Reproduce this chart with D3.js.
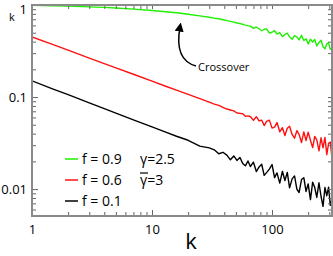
<!DOCTYPE html>
<html>
<head>
<meta charset="utf-8">
<script src="https://cdn.jsdelivr.net/npm/d3@7"></script>
<style>
  body { margin: 0; background: #fff; }
  svg { display: block; font-family: "Open Sans", "Noto Sans", sans-serif; }
</style>
</head>
<body>
<div id="chart"></div>
<script>
// degree values, shared by the three curves
var kValues = [1, 1.5, 2, 3, 4, 5, 7, 10, 13, 16, 20, 25, 30,
  33, 36, 39, 42, 45, 48, 51, 54, 57, 60, 63,
  66, 70, 74, 78, 82, 86, 90, 95, 100, 105, 110, 116, 122, 128, 134, 140,
  147, 154, 161, 168, 176, 184, 192, 200, 209, 218, 227, 236, 246, 256,
  266, 276, 286, 296, 306, 316];

// f = 0.9 (green)
var greenValues = [0.99, 0.98, 0.973, 0.955, 0.942, 0.929, 0.902, 0.871, 0.845, 0.824, 0.794, 0.762, 0.736,
  0.719, 0.708, 0.692, 0.676, 0.664, 0.652, 0.638, 0.627, 0.617, 0.605, 0.596,
  0.589, 0.558, 0.577, 0.552, 0.525, 0.545, 0.550, 0.495, 0.506, 0.527, 0.483, 0.500, 0.452, 0.480, 0.495, 0.451,
  0.425, 0.465, 0.449, 0.418, 0.468, 0.411, 0.429, 0.377, 0.426, 0.395, 0.423, 0.359, 0.392, 0.414,
  0.352, 0.335, 0.380, 0.388, 0.330, 0.342];

// f = 0.6 (red)
var redValues = [0.450, 0.371, 0.323, 0.265, 0.231, 0.207, 0.177, 0.149, 0.131, 0.119, 0.107, 0.0959, 0.0879,
  0.0839, 0.0811, 0.0774, 0.0741, 0.0724, 0.0708, 0.0671, 0.0664, 0.0658, 0.0617, 0.0624,
  0.0615, 0.0558, 0.0611, 0.0550, 0.0561, 0.0490, 0.0543, 0.0561, 0.0460, 0.0471, 0.0528, 0.0419, 0.0465, 0.0382, 0.0459, 0.0482,
  0.0392, 0.0357, 0.0431, 0.0394, 0.0320, 0.0418, 0.0337, 0.0416, 0.0339, 0.0282, 0.0373, 0.0342, 0.0260, 0.0361,
  0.0281, 0.0364, 0.0237, 0.0314, 0.0324, 0.0215];

// f = 0.1 (black)
var blackValues = [0.150, 0.122, 0.106, 0.0865, 0.0750, 0.0670, 0.0566, 0.0474, 0.0416, 0.0375, 0.0339, 0.0293, 0.0280,
  0.0267, 0.0242, 0.0251, 0.0234, 0.0208, 0.0229, 0.0205, 0.0221, 0.0190, 0.0179, 0.0202,
  0.0176, 0.0196, 0.0155, 0.0174, 0.0186, 0.0141, 0.0151, 0.0165, 0.0185, 0.0133, 0.0150, 0.0116, 0.0156, 0.0124, 0.0152, 0.0103,
  0.0129, 0.0139, 0.0100, 0.00918, 0.0127, 0.0133, 0.00942, 0.0114, 0.00769, 0.0119, 0.0104, 0.00811, 0.0117, 0.00836,
  0.00650, 0.0104, 0.00847, 0.0105, 0.00665, 0.00769];

var xMajor = [1, 10, 100];
var xMinor = [2, 3, 4, 5, 6, 7, 8, 9, 20, 30, 40, 50, 60, 70, 80, 90, 200, 300];
var yMajor = [0.01, 0.1, 1];
var yMinor = [0.006, 0.007, 0.008, 0.009, 0.02, 0.03, 0.04, 0.05, 0.06, 0.07, 0.08, 0.09,
  0.2, 0.3, 0.4, 0.5, 0.6, 0.7, 0.8, 0.9];

var seriesNames = ["f = 0.9", "f = 0.6", "f = 0.1"];
var seriesColors = ["#1ef000", "#ff1010", "#000000"];
var seriesData = [greenValues, redValues, blackValues];

var width = 333, height = 256;
var plotLeft = 32, plotRight = 332, plotTop = 5, plotBottom = 216;

var svg = d3.select("#chart").append("svg")
    .attr("width", width)
    .attr("height", height);

var x = d3.scaleLog().domain([1, 316]).range([plotLeft, plotRight]);
var y = d3.scaleLog().domain([0.0051, 1]).range([plotBottom, plotTop]);

svg.append("clipPath").attr("id", "plotclip")
  .append("rect")
    .attr("x", plotLeft).attr("y", plotTop)
    .attr("width", plotRight - plotLeft).attr("height", plotBottom - plotTop);

// curves
var line = d3.line()
    .x(function (d) { return x(d[0]); })
    .y(function (d) { return y(d[1]); });

seriesData.forEach(function (vals, i) {
    var pts = kValues.map(function (k, j) { return [k, vals[j]]; });
    svg.append("path")
        .datum(pts)
        .attr("clip-path", "url(#plotclip)")
        .attr("fill", "none")
        .attr("stroke", seriesColors[i])
        .attr("stroke-width", 1.4)
        .attr("stroke-linejoin", "round")
        .attr("d", line);
});

// axes, ticks drawn inward on all four sides
function styleAxis(g) {
    g.select(".domain").remove();
    g.selectAll(".tick line").attr("stroke", "#666").attr("stroke-width", 1);
    g.selectAll(".tick text").attr("fill", "#000").style("font-size", "13px")
        .style("font-family", "'Open Sans', 'Noto Sans', sans-serif");
}

svg.append("g").attr("transform", "translate(0," + plotBottom + ")")
    .call(d3.axisBottom(x).tickValues(xMajor).tickSizeInner(-6).tickSizeOuter(0).tickPadding(9)
        .tickFormat(d3.format("d")))
    .call(styleAxis);
svg.append("g").attr("transform", "translate(0," + plotBottom + ")")
    .call(d3.axisBottom(x).tickValues(xMinor).tickSizeInner(-4).tickSizeOuter(0).tickFormat(""))
    .call(styleAxis);
svg.append("g").attr("transform", "translate(0," + plotTop + ")")
    .call(d3.axisTop(x).tickValues(xMajor.concat(xMinor)).tickSizeInner(-4).tickSizeOuter(0).tickFormat(""))
    .call(styleAxis);

var yLabels = svg.append("g").attr("transform", "translate(" + plotLeft + ",0)")
    .call(d3.axisLeft(y).tickValues(yMajor).tickSizeInner(-6).tickSizeOuter(0).tickPadding(5)
        .tickFormat(function (d) { return String(d); }))
    .call(styleAxis);
svg.append("g").attr("transform", "translate(" + plotLeft + ",0)")
    .call(d3.axisLeft(y).tickValues(yMinor).tickSizeInner(-4).tickSizeOuter(0).tickFormat(""))
    .call(styleAxis);
svg.append("g").attr("transform", "translate(" + plotRight + ",0)")
    .call(d3.axisRight(y).tickValues(yMajor.concat(yMinor)).tickSizeInner(-4).tickSizeOuter(0).tickFormat(""))
    .call(styleAxis);

// the "1" at the top of the y axis sits a little lower than its tick
yLabels.selectAll(".tick text").filter(function (d) { return d === 1; })
    .attr("dy", "0.62em");

// frame
svg.append("rect")
    .attr("x", plotLeft).attr("y", plotTop)
    .attr("width", plotRight - plotLeft).attr("height", plotBottom - plotTop)
    .attr("fill", "none")
    .attr("stroke", "#8a8a8a")
    .attr("stroke-width", 2);

// axis titles
svg.append("text").attr("x", 191).attr("y", 249)
    .attr("text-anchor", "middle").style("font-size", "22px").text("k");
svg.append("text").attr("x", 12).attr("y", 21)
    .attr("text-anchor", "middle").style("font-size", "11px").text("k");

// legend
var legend = svg.append("g");
seriesNames.forEach(function (name, i) {
    var ly = 159 + i * 21;
    legend.append("line")
        .attr("x1", 65).attr("x2", 78).attr("y1", ly).attr("y2", ly)
        .attr("stroke", seriesColors[i]).attr("stroke-width", 1.5);
    legend.append("text")
        .attr("x", 82).attr("y", ly + 5)
        .style("font-size", "14px").text(name);
});
legend.append("text").attr("x", 140).attr("y", 164)
    .style("font-size", "14px").text("\u03b3=2.5");
legend.append("text").attr("x", 140).attr("y", 185)
    .style("font-size", "14px").text("\u03b3=3");
legend.append("line")
    .attr("x1", 140).attr("x2", 148).attr("y1", 173).attr("y2", 173)
    .attr("stroke", "#000").attr("stroke-width", 1.2);

// crossover annotation
svg.append("defs").append("marker")
    .attr("id", "arrowhead")
    .attr("viewBox", "0 0 10 10")
    .attr("refX", 5).attr("refY", 5)
    .attr("markerWidth", 6).attr("markerHeight", 6)
    .attr("orient", "auto")
  .append("path").attr("d", "M0,0L10,5L0,10z").attr("fill", "#000");

svg.append("path")
    .attr("d", "M196,66 Q174,60 180,27")
    .attr("fill", "none")
    .attr("stroke", "#000")
    .attr("stroke-width", 1.5)
    .attr("marker-end", "url(#arrowhead)");
svg.append("text").attr("x", 198).attr("y", 71)
    .style("font-size", "11px").text("Crossover");
</script>
</body>
</html>
